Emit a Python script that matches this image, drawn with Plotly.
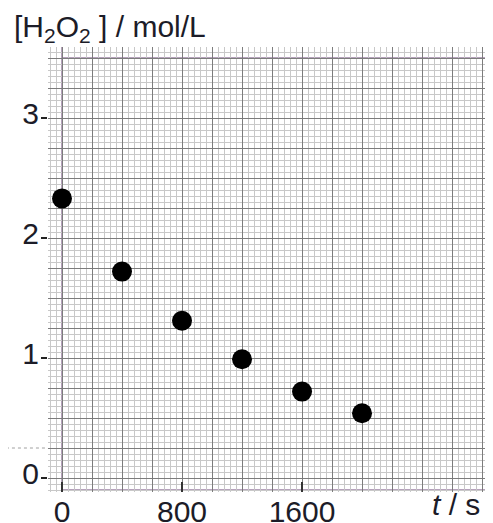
import plotly.graph_objects as go

# Data
t_s = [0, 400, 800, 1200, 1600, 2000]
conc = [2.33, 1.72, 1.31, 0.99, 0.72, 0.54]

x_tickvals = [0, 800, 1600]
x_ticktext = ["0", "800", "1600"]
y_tickvals = [0, 1, 2, 3]
y_ticktext = ["0", "1", "2", "3"]

x_range = [-93.3, 2873]
y_range = [-0.1167, 3.5917]

FONT = "Liberation Sans, Arial, sans-serif"
TXT = "#1c1c28"
PURPLE = "#9c82a4"
FS = 30

fig = go.Figure()

# invisible trace to instantiate grid axes
fig.add_trace(go.Scatter(x=t_s, y=conc, mode="markers", xaxis="x", yaxis="y",
                         marker=dict(size=1, opacity=0), hoverinfo="skip", showlegend=False))

# data points on label axes
fig.add_trace(go.Scatter(x=t_s, y=conc, mode="markers", xaxis="x2", yaxis="y2",
                         marker=dict(size=20, color="black"), showlegend=False))

# page body has an 8px default margin, so the figure is offset by 8px
fig.update_layout(
    width=485, height=515, autosize=False,
    margin=dict(l=40, r=0, t=39, b=31),
    paper_bgcolor="white", plot_bgcolor="white",
    font=dict(family=FONT, size=FS, color=TXT),
    showlegend=False,
    xaxis=dict(range=x_range, showticklabels=False, ticks="", zeroline=False, automargin=False,
               showgrid=True, tick0=0, dtick=200, gridcolor="#7c7c7c", gridwidth=1,
               minor=dict(showgrid=True, dtick=40, gridcolor="#c8c8c8", gridwidth=1),
               showline=False, fixedrange=True),
    yaxis=dict(range=y_range, showticklabels=False, ticks="", zeroline=False, automargin=False,
               showgrid=True, tick0=0, dtick=0.25, gridcolor="#7c7c7c", gridwidth=1,
               minor=dict(showgrid=True, dtick=0.05, gridcolor="#c8c8c8", gridwidth=1),
               showline=False, fixedrange=True),
    xaxis2=dict(range=x_range, overlaying="x", side="bottom", showgrid=False, zeroline=False,
                automargin=False,
                tickmode="array", tickvals=x_tickvals, ticktext=x_ticktext,
                ticks="inside", ticklen=10, tickwidth=2, tickcolor="#333333",
                tickfont=dict(family=FONT, size=FS, color=TXT), ticklabelstandoff=-1,
                showline=False, fixedrange=True),
    yaxis2=dict(range=y_range, overlaying="y", side="left", showgrid=False, zeroline=False,
                automargin=False,
                tickmode="array", tickvals=y_tickvals, ticktext=y_ticktext,
                ticks="outside", ticklen=6, tickwidth=2, tickcolor="#222222",
                tickfont=dict(family=FONT, size=FS, color=TXT), ticklabelshift=-5,
                ticklabelstandoff=-4, showline=False, fixedrange=True),
)

# purple frame lines
fig.add_shape(type="line", xref="x", yref="paper", x0=0, x1=0, y0=0, y1=1,
              line=dict(color=PURPLE, width=1.5), layer="below")
fig.add_shape(type="line", xref="x", yref="y", x0=0, x1=3000, y0=3.5, y1=3.5,
              line=dict(color=PURPLE, width=1.5), layer="below")
fig.add_shape(type="line", xref="x", yref="y", x0=0, x1=3000, y0=-0.1, y1=-0.1,
              line=dict(color=PURPLE, width=1.5), layer="below")
# dotted mark left of grid
fig.add_shape(type="line", xref="paper", yref="y", x0=-0.108, x1=0, y0=0.25, y1=0.25,
              line=dict(color="#a0a0a0", width=1, dash="dot"))

# axis titles
fig.add_annotation(text="[H<sub>2</sub>O<sub>2</sub> ] / mol/L", xref="paper", yref="paper",
                   x=-0.081, y=1.042, xanchor="left", yanchor="middle", showarrow=False,
                   font=dict(family=FONT, size=FS, color=TXT))
fig.add_annotation(text="<i>t</i> / s", xref="paper", yref="paper",
                   x=0.917, y=-0.027, xanchor="center", yanchor="middle", showarrow=False,
                   font=dict(family=FONT, size=FS, color=TXT))

fig.write_html("out.html")
